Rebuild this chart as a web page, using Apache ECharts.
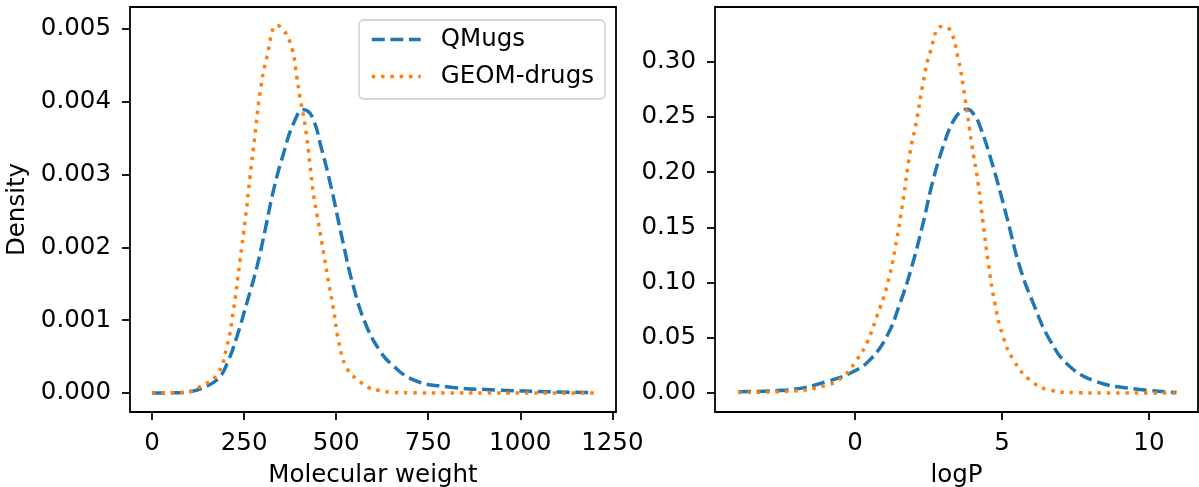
<!DOCTYPE html>
<html>
<head>
<meta charset="utf-8">
<script src="https://cdn.jsdelivr.net/npm/echarts@6/dist/echarts.min.js"></script>
<style>
  html, body { margin: 0; padding: 0; background: #fff; }
  #chart { width: 1199px; height: 487px; }
</style>
</head>
<body>
<div id="chart"></div>
<script>
// molecular weight densities
var mwQMugsX = [0, 50, 100, 135, 180, 205, 230, 257, 285, 307, 330, 357, 384, 411, 434, 461, 488, 515, 547, 583, 620, 647, 710, 800, 937, 1073, 1200]
var mwQMugsY = [0, 0.000002, 0.000015, 0.000064, 0.0002, 0.00042, 0.00077, 0.00123, 0.00174, 0.00224, 0.00279, 0.00329, 0.0037, 0.00389, 0.0038, 0.00334, 0.00279, 0.00215, 0.00146, 0.00091, 0.00057, 0.00041, 0.00018, 0.000087, 0.000041, 0.000018, 0.000005]
var mwGeomX = [0, 50, 100, 130, 176, 203, 221, 239, 253, 266, 280, 293, 312, 339, 357, 380, 393, 402, 416, 429, 438, 452, 466, 479, 493, 506, 529, 565, 592, 611, 650, 700, 800, 900, 1000, 1100, 1200]
var mwGeomY = [0, 0.000002, 0.00002, 0.000087, 0.000247, 0.000636, 0.00114, 0.00183, 0.00238, 0.00297, 0.00357, 0.00412, 0.00462, 0.00505, 0.00499, 0.00473, 0.00434, 0.00405, 0.00366, 0.00313, 0.00274, 0.00233, 0.00192, 0.00153, 0.00114, 0.00073, 0.00034, 0.000155, 0.000064, 0.00004, 0.00001, 0.000003, 0, 0, 0, 0, 0]

// logP densities
var lpQMugsX = [-3.97, -2.32, -0.96, -0.06, 0.51, 1.08, 1.53, 1.93, 2.32, 2.66, 3.06, 3.34, 3.6, 3.84, 4.05, 4.25, 4.7, 5.16, 5.61, 6.07, 6.63, 7.31, 8.22, 9.35, 10.94]
var lpQMugsY = [0.0012, 0.0027, 0.0103, 0.0193, 0.03, 0.051, 0.081, 0.114, 0.154, 0.193, 0.228, 0.246, 0.255, 0.257, 0.252, 0.242, 0.205, 0.16, 0.114, 0.081, 0.048, 0.024, 0.0103, 0.0042, 0.0005]
var lpGeomX = [-3.97, -2.32, -0.96, -0.4, 0.06, 0.4, 0.74, 1.08, 1.36, 1.64, 1.87, 2.1, 2.32, 2.55, 2.95, 3.23, 3.51, 3.74, 3.97, 4.19, 4.36, 4.54, 4.76, 5.04, 5.39, 5.95, 6.63, 7.6, 8.5, 9.5, 11]
var lpGeomY = [0.0005, 0.0015, 0.007, 0.015, 0.03, 0.045, 0.069, 0.096, 0.13, 0.175, 0.217, 0.247, 0.281, 0.308, 0.332, 0.329, 0.303, 0.268, 0.226, 0.19, 0.154, 0.117, 0.081, 0.051, 0.03, 0.0118, 0.0027, 0.0003, 0, 0, 0]

// tick labels
var mwTicks = [0, 250, 500, 750, 1000, 1250]
var mwDensityTicks = [0, 0.001, 0.002, 0.003, 0.004, 0.005]
var lpTicks = [0, 5, 10]
var lpDensityTicks = [0, 0.05, 0.1, 0.15, 0.2, 0.25, 0.3]

var seriesNames = ['QMugs', 'GEOM-drugs']

function pairs(xs, ys) {
  return xs.map(function (x, i) { return [x, ys[i]] })
}

var font = 'DejaVu Sans'
var labelStyle = { color: '#000', fontSize: 24.5, fontFamily: font }
var tickStyle = { color: '#000', width: 1.8 }

function xAxisOf(gridIndex, min, max, ticks, name) {
  return {
    type: 'value', gridIndex: gridIndex, min: min, max: max,
    name: name, nameLocation: 'middle', nameGap: 51,
    nameTextStyle: labelStyle,
    axisLine: { show: false, onZero: false },
    splitLine: { show: false },
    axisTick: { show: true, length: 8, lineStyle: tickStyle, customValues: ticks },
    axisLabel: Object.assign({
      margin: 19, customValues: ticks,
      formatter: function (v) { return String(v) }
    }, labelStyle)
  }
}

function yAxisOf(gridIndex, min, max, ticks, digits, name) {
  return {
    type: 'value', gridIndex: gridIndex, min: min, max: max,
    name: name, nameLocation: 'middle', nameGap: 100,
    nameTextStyle: labelStyle,
    axisLine: { show: false, onZero: false },
    splitLine: { show: false },
    axisTick: { show: true, length: 8, lineStyle: tickStyle, customValues: ticks },
    axisLabel: Object.assign({
      margin: 19, customValues: ticks,
      formatter: function (v) { return v.toFixed(digits) }
    }, labelStyle)
  }
}

var dashed = { color: '#1f77b4', width: 3.5, type: [13, 5.6], cap: 'butt' }
var dotted = { color: '#ff7f0e', width: 3.5, type: [3.5, 5.8], cap: 'butt' }

function line(name, idx, data, style) {
  return {
    name: name, type: 'line', xAxisIndex: idx, yAxisIndex: idx,
    data: data, smooth: 0.45, symbol: 'none', showSymbol: false,
    color: style.color, lineStyle: style
  }
}

var chart = echarts.init(document.getElementById('chart'), null, { renderer: 'canvas' })
chart.setOption({
  animation: false,
  backgroundColor: '#fff',
  grid: [
    { left: 130, top: 7, width: 486, height: 405, outerBoundsMode: 'none', containLabel: false, show: true, borderColor: '#000', borderWidth: 1.8 },
    { left: 715, top: 7, width: 483, height: 405, outerBoundsMode: 'none', containLabel: false, show: true, borderColor: '#000', borderWidth: 1.8 }
  ],
  legend: {
    data: seriesNames,
    orient: 'vertical',
    left: 359, top: 20,
    itemWidth: 49, itemHeight: 10, itemGap: 12,
    padding: [7, 11, 10, 11],
    backgroundColor: '#fff',
    borderColor: '#d6d6d6', borderWidth: 1.8, borderRadius: 5,
    itemStyle: { opacity: 0 },
    lineStyle: { width: 3.5 },
    textStyle: { color: '#000', fontSize: 24.5, fontFamily: font, padding: [0, 0, 0, 15] }
  },
  xAxis: [
    xAxisOf(0, -60, 1260, mwTicks, 'Molecular weight'),
    xAxisOf(1, -4.76, 11.67, lpTicks, 'logP')
  ],
  yAxis: [
    yAxisOf(0, -0.000261, 0.005302, mwDensityTicks, 3, 'Density'),
    yAxisOf(1, -0.0172, 0.3496, lpDensityTicks, 2, '')
  ],
  series: [
    line(seriesNames[0], 0, pairs(mwQMugsX, mwQMugsY), dashed),
    line(seriesNames[1], 0, pairs(mwGeomX, mwGeomY), dotted),
    line(seriesNames[0], 1, pairs(lpQMugsX, lpQMugsY), dashed),
    line(seriesNames[1], 1, pairs(lpGeomX, lpGeomY), dotted)
  ]
})
</script>
</body>
</html>
